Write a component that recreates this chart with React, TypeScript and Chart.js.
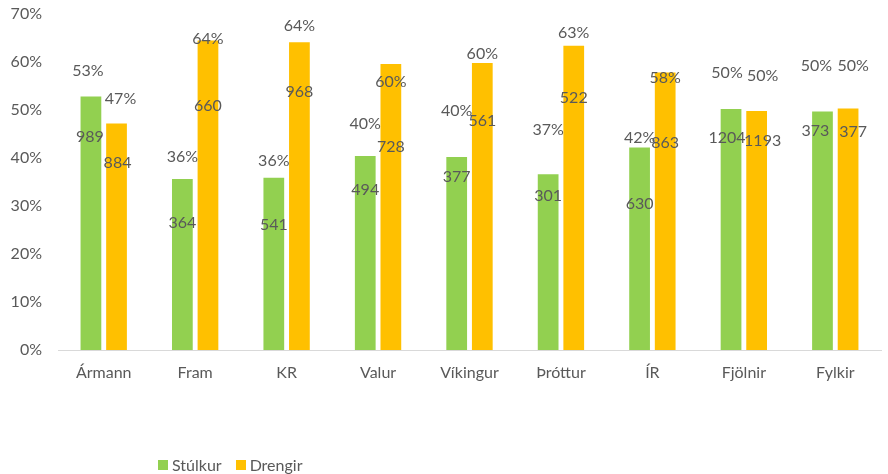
import React, { useEffect, useRef } from "react";
import { Chart, registerables } from "chart.js";

Chart.register(...registerables);

// ---- data ----
const categories = ["Ármann", "Fram", "KR", "Valur", "Víkingur", "Þróttur", "ÍR", "Fjölnir", "Fylkir"];
const seriesNames = ["Stúlkur", "Drengir"];

// share of each club's players (%)
const girlsPct = [52.8, 35.6, 35.9, 40.4, 40.2, 36.6, 42.2, 50.2, 49.7];
const boysPct = [47.2, 64.5, 64.1, 59.6, 59.8, 63.4, 57.8, 49.8, 50.3];

// label texts
const girlsPctText = ["53%", "36%", "36%", "40%", "40%", "37%", "42%", "50%", "50%"];
const boysPctText = ["47%", "64%", "64%", "60%", "60%", "63%", "58%", "50%", "50%"];
const girlsCount = [989, 364, 541, 494, 377, 301, 630, 1204, 373];
const boysCount = [884, 660, 968, 728, 561, 522, 863, 1193, 377];

const yTicks = [0, 10, 20, 30, 40, 50, 60, 70];

// ---- label placement (in axis units, %), as placed in the original ----
const girlsPctLabelAt = [58.1, 40.2, 39.4, 47.1, 49.8, 45.8, 44.2, 57.7, 59.2];
const boysPctLabelAt = [52.3, 64.8, 67.5, 55.8, 61.7, 66.0, 56.7, 57.1, 59.2];
const girlsCountLabelAt = [44.4, 26.5, 26.0, 33.3, 36.0, 32.1, 30.4, 44.2, 45.6];
const boysCountLabelAt = [39.0, 50.8, 53.75, 42.3, 47.7, 52.5, 43.1, 43.5, 45.4];
const girlsCountShift = [-1, 0, 0, 0, 0, 0, 0, -4, -7];
const boysCountShift = [1, 0, 0, 0, 0, 0, 0, 6, 5];
const girlsPctShift = [-3, 0, 0, 0, 0, 0, 0, -4, -6];
const boysPctShift = [4, 0, 0, 0, 0, 0, 0, 6, 5];

const GREEN = "#92D050";
const ORANGE = "#FFC000";
const TEXT = "#595959";
const FONT = "Lato, 'Open Sans', sans-serif";
const SIZE = 16;

const labelPlugin = {
  id: "barTexts",
  afterDatasetsDraw(chart: any) {
    const ctx = chart.ctx;
    const y = chart.scales.y;
    const sets = [
      { pos: girlsPctLabelAt, text: girlsPctText, dx: girlsPctShift, ds: 0 },
      { pos: boysPctLabelAt, text: boysPctText, dx: boysPctShift, ds: 1 },
      { pos: girlsCountLabelAt, text: girlsCount.map(String), dx: girlsCountShift, ds: 0 },
      { pos: boysCountLabelAt, text: boysCount.map(String), dx: boysCountShift, ds: 1 },
    ];
    ctx.save();
    ctx.font = `${SIZE}px ${FONT}`;
    ctx.fillStyle = TEXT;
    ctx.textAlign = "center";
    ctx.textBaseline = "middle";
    for (const s of sets) {
      const meta = chart.getDatasetMeta(s.ds);
      meta.data.forEach((bar: any, i: number) => {
        ctx.fillText(s.text[i], bar.x + s.dx[i], y.getPixelForValue(s.pos[i]));
      });
    }
    ctx.restore();
  },
};

export default function App() {
  const ref = useRef<HTMLCanvasElement | null>(null);

  useEffect(() => {
    if (!ref.current) return;
    const chart = new Chart(ref.current, {
      type: "bar",
      data: {
        labels: categories,
        datasets: [
          {
            label: seriesNames[0],
            data: girlsPct,
            backgroundColor: GREEN,
            borderWidth: 0,
            categoryPercentage: 0.56,
            barPercentage: 0.81,
          },
          {
            label: seriesNames[1],
            data: boysPct,
            backgroundColor: ORANGE,
            borderWidth: 0,
            categoryPercentage: 0.56,
            barPercentage: 0.81,
          },
        ],
      },
      options: {
        responsive: false,
        animation: false,
        layout: { padding: { top: 14, right: 7, left: 0, bottom: 0 } },
        plugins: {
          legend: { display: false },
          tooltip: { enabled: false },
        },
        scales: {
          x: {
            grid: { display: false, drawTicks: false },
            border: { display: true, color: "#d9d9d9", width: 1 },
            ticks: { color: TEXT, font: { family: FONT, size: SIZE }, padding: 13, maxRotation: 0 },
            afterFit(scale: any) {
              scale.height = 124;
              scale.paddingLeft = 0;
              scale.paddingRight = 0;
            },
          },
          y: {
            min: 0,
            max: 70,
            grid: { display: false, drawTicks: false },
            border: { display: false },
            afterBuildTicks(scale: any) {
              scale.ticks = yTicks.map((v) => ({ value: v }));
            },
            ticks: {
              color: TEXT,
              font: { family: FONT, size: SIZE },
              padding: 16,
              callback: (v: any) => `${v}%`,
            },
            afterFit(scale: any) {
              scale.width = 58;
              scale.paddingTop = 0;
              scale.paddingBottom = 0;
            },
          },
        },
      },
      plugins: [labelPlugin],
    });
    return () => chart.destroy();
  }, []);

  const legendItem = (color: string, text: string) => (
    <span style={{ display: "inline-flex", alignItems: "center", marginRight: 14 }}>
      <span style={{ width: 10, height: 10, background: color, display: "inline-block", marginRight: 4 }} />
      <span>{text}</span>
    </span>
  );

  return (
    <div style={{ position: "absolute", left: 0, top: 0, width: 888, height: 474, background: "#fff" }}>
      <canvas ref={ref} width={888} height={474} style={{ display: "block" }} />
      <div
        style={{
          position: "absolute",
          left: 158,
          top: 456,
          fontFamily: FONT,
          fontSize: SIZE,
          color: TEXT,
          lineHeight: "18px",
          whiteSpace: "nowrap",
          display: "flex",
        }}
      >
        {legendItem(GREEN, seriesNames[0])}
        {legendItem(ORANGE, seriesNames[1])}
      </div>
    </div>
  );
}
